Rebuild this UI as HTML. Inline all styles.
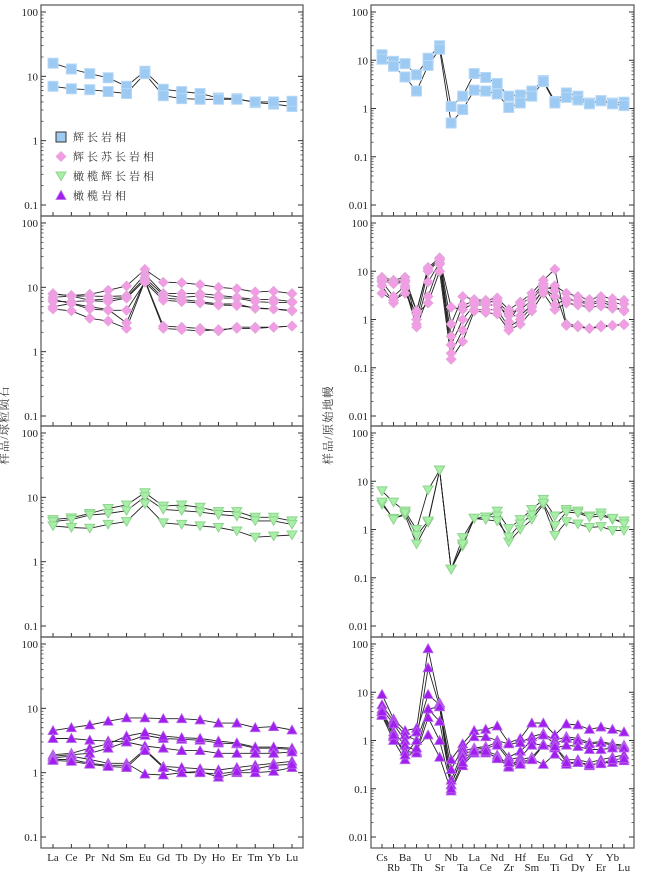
<!DOCTYPE html>
<html><head><meta charset="utf-8">
<style>
html,body{margin:0;padding:0;background:#fff;}
svg{display:block;font-family:"Liberation Serif","Noto Serif CJK SC",serif;}
</style></head>
<body>
<svg id="chart" width="649" height="872" viewBox="0 0 649 872" xmlns="http://www.w3.org/2000/svg">
<text x="8" y="425" font-size="11.5" fill="#333" text-anchor="middle" letter-spacing="1" transform="rotate(-90 8 425)" font-family="'Liberation Serif','Noto Serif CJK SC',serif">样品/球粒陨石</text>
<text x="332" y="425" font-size="11.5" fill="#333" text-anchor="middle" letter-spacing="1" transform="rotate(-90 332 425)" font-family="'Liberation Serif','Noto Serif CJK SC',serif">样品/原始地幔</text>
</svg>
<script>
const reeCats = ["La","Ce","Pr","Nd","Sm","Eu","Gd","Tb","Dy","Ho","Er","Tm","Yb","Lu"];
const spiderCats = ["Cs","Rb","Ba","Th","U","Sr","Nb","Ta","La","Ce","Nd","Zr","Hf","Sm","Eu","Ti","Gd","Dy","Y","Er","Yb","Lu"];
const reeTicks = ["100","10","1","0.1"];
const spiderTicks = ["100","10","1","0.1","0.01"];
const legendLabels = ["辉长岩相","辉长苏长岩相","橄榄辉长岩相","橄榄岩相"];

const gabbroRee1 = [16,13,11,9.5,7,12,6.3,5.8,5.4,4.6,4.5,3.9,3.7,3.4];
const gabbroRee2 = [7,6.4,6.2,5.8,5.4,11,5,4.5,4.4,4.4,4.4,4,4,4.1];
const gabbroSp1 = [13,9.5,8.5,5,11,20,1.1,1.8,5.3,4.4,3.3,1.8,1.9,2.3,3.8,1.4,2.1,1.8,1.3,1.45,1.3,1.35];
const gabbroSp2 = [10.5,7.5,4.5,2.3,7.8,17,0.5,0.95,2.4,2.3,2.0,1.05,1.3,1.8,3.6,1.3,1.7,1.5,1.25,1.45,1.25,1.15];

const normRee1 = [7.8,7.5,7.8,9,10.5,19,12,11.8,11,10,9.5,8.5,8.7,8];
const normRee2 = [8,7.3,7.3,7.2,7.4,16,8,8,8,7.5,7,6.5,6.5,6];
const normRee3 = [7,7.3,6.3,6.6,7,14,7.6,7,7.3,6.8,6.8,6,5.8,5.8];
const normRee4 = [6,6,6.2,6,6.8,13,6.8,6.5,6,5.5,5.5,4.7,4.6,4.3];
const normRee5 = [5,5.6,5,4.5,2.8,13,2.5,2.4,2.3,2.1,2.4,2.4,2.4,2.5];
const normRee6 = [4.6,4.3,3.3,3,2.3,12.5,2.3,2.2,2.1,2.2,2.3,2.3,2.4,2.5];
const normRee7 = [6.5,5.6,4.6,4.4,4.4,12,6.3,6,5.7,5.3,5.2,4.8,4.6,4.4];
const normSp1 = [7.5,6.5,7.5,1.5,12,19,0.8,3.0,2.6,2.5,2.8,1.6,2.3,3.5,6.5,11,0.8,0.75,0.65,0.75,0.75,0.8];
const normSp2 = [7,6,6.5,1.0,10,17,0.45,2.0,2.4,2.4,2.3,1.4,1.6,2.5,5,4,0.75,0.7,0.65,0.7,0.75,0.78];
const normSp3 = [6,3,5,0.8,6,15,0.3,1.0,2.0,2.0,2.0,1.2,1.2,2.0,4,5,3.5,3.0,2.6,3.0,2.7,2.5];
const normSp4 = [5,2.2,4.5,0.7,3,14,0.2,0.6,1.6,1.6,1.6,0.7,1.0,1.8,4.5,3,2.5,2.5,2.2,2.5,2.2,2.1];
const normSp5 = [3.5,2.5,3.5,1.3,2.2,10,0.15,0.35,1.5,1.4,1.3,0.6,0.8,1.5,3.5,1.6,2.2,2.0,1.8,1.9,1.7,1.6];
const normSp6 = [6.5,5.5,6,1.5,11,18,1.8,1.6,2.2,2.2,2.5,0.9,2.1,2.9,5.5,2.0,2.7,2.4,2.0,2.3,1.9,1.5];

const olgRee1 = [4.5,4.8,5.6,6.7,7.6,11.8,7.3,7.6,7,6,6,4.9,4.9,4.3];
const olgRee2 = [4.2,4.5,5.3,5.6,6.2,10.2,6.5,6.2,5.9,5.4,5.1,4.3,4.3,3.8];
const olgRee3 = [3.6,3.4,3.3,3.8,4.2,7.9,4,3.8,3.6,3.4,3.0,2.4,2.5,2.6];
const olgSp1 = [6.3,3.7,2.4,1.0,6.6,17,0.15,0.68,1.7,1.8,2.4,1.05,1.6,2.6,4.2,1.9,2.6,2.4,1.9,2.2,1.6,1.5];
const olgSp2 = [3.3,1.7,2.0,0.5,1.4,17,0.15,0.45,1.7,1.8,1.9,0.55,1.0,1.6,3.3,0.75,1.45,1.3,1.1,1.15,0.95,0.95];
const olgSp3 = [3.7,1.6,2.2,0.75,1.5,17,0.15,0.5,1.7,1.6,1.5,0.7,1.3,2.0,3.5,1.2,2.3,2.2,1.8,1.9,1.7,1.3];

const perRee1 = [4.5,5,5.5,6.3,7.1,7.1,6.9,6.9,6.6,5.9,5.9,5.0,5.2,4.6];
const perRee2 = [3.4,3.4,3.2,3.1,3.0,3.8,3.4,3.3,3.2,2.9,2.8,2.4,2.4,2.3];
const perRee3 = [1.9,2.0,2.4,2.8,3.7,4.2,3.7,3.5,3.4,3.1,2.9,2.5,2.5,2.4];
const perRee4 = [1.8,1.9,2.0,2.4,3.0,2.6,2.4,2.2,2.2,2.0,2.0,2.0,2.0,2.1];
const perRee5 = [1.7,1.8,1.6,1.4,1.4,0.95,0.92,1.0,1.05,0.85,1.0,1.0,1.05,1.2];
const perRee6 = [1.6,1.6,1.4,1.3,1.3,2.3,1.25,1.2,1.15,1.1,1.2,1.3,1.4,1.5];
const perRee7 = [1.55,1.5,1.35,1.25,1.2,2.2,1.2,1.0,1.0,0.95,1.05,1.15,1.3,1.35];
const perSp1 = [9,2.8,1.6,1.8,80,6,0.4,0.85,1.6,1.7,2.0,0.9,1.1,2.3,2.3,1.3,2.2,2.1,1.7,1.9,1.7,1.5];
const perSp2 = [5.5,2.5,1.3,1.0,32,5,0.25,0.7,1.2,1.2,1.0,0.85,0.9,1.2,1.4,1.0,1.2,1.1,0.9,0.95,0.85,0.8];
const perSp3 = [4.5,2.2,1.0,1.5,9,5.5,0.15,0.6,0.7,0.75,0.9,0.45,0.6,1.0,1.3,0.85,1.1,1.0,0.85,0.9,0.8,0.75];
const perSp4 = [4,1.5,0.8,0.6,4.5,2.5,0.12,0.5,0.65,0.7,0.8,0.4,0.45,0.8,0.85,0.7,0.8,0.75,0.65,0.65,0.7,0.7];
const perSp5 = [3.5,1.2,0.6,0.55,3,1.0,0.12,0.45,0.55,0.6,0.5,0.3,0.4,0.45,0.8,0.75,0.4,0.4,0.35,0.4,0.45,0.5];
const perSp6 = [3.3,1.0,0.4,0.7,1.3,0.45,0.09,0.3,0.55,0.55,0.45,0.28,0.35,0.42,0.32,0.52,0.32,0.35,0.3,0.35,0.35,0.38];
const perSp7 = [4,1.3,0.5,1.0,4.5,5,0.1,0.35,0.6,0.6,0.42,0.35,0.32,0.4,0.8,0.75,0.35,0.35,0.32,0.33,0.4,0.42];

const NS = "http://www.w3.org/2000/svg";
const svg = document.getElementById("chart");
function mk(tag, attrs, parent) {
  const e = document.createElementNS(NS, tag);
  for (const k in attrs) e.setAttribute(k, attrs[k]);
  (parent || svg).appendChild(e);
  return e;
}
const tops = [5, 216, 426, 637];
const bottomY = 848;
const styles = {
  square: {fill:"#9ccaf3", stroke:"#b8d8f5"},
  diamond: {fill:"#f39be5", stroke:"#e4a5dc"},
  down: {fill:"#a8f0a8", stroke:"#8fd48f"},
  up: {fill:"#a11ef0", stroke:"#b868e8"}
};
function marker(g, type, x, y) {
  const s = styles[type];
  let e;
  if (type === "square") e = mk("rect", {x:x-5, y:y-5, width:10, height:10, fill:s.fill, stroke:s.stroke, "stroke-width":1}, g);
  else if (type === "diamond") e = mk("polygon", {points:`${x},${y-4.8} ${x+4.8},${y} ${x},${y+4.8} ${x-4.8},${y}`, fill:s.fill, stroke:s.stroke, "stroke-width":1}, g);
  else if (type === "down") e = mk("polygon", {points:`${x-5},${y-4} ${x+5},${y-4} ${x},${y+4.5}`, fill:s.fill, stroke:s.stroke, "stroke-width":1}, g);
  else e = mk("polygon", {points:`${x-5},${y+4} ${x+5},${y+4} ${x},${y-5}`, fill:s.fill, stroke:s.stroke, "stroke-width":0.8}, g);
  return e;
}
function panel(name, left, row, cats, minExp, ticks, seriesList, type, firstX, lastX) {
  const x0 = left ? 41 : 371, x1 = left ? 303 : 634;
  const top = tops[row], bot = row < 3 ? tops[row+1] : bottomY;
  const yTop = top + 7, yBot = top + 200;
  const ppd = (yBot - yTop) / (2 - minExp);
  const yScale = v => yTop + (2 - Math.log10(v)) * ppd;
  const step = (lastX - firstX) / (cats.length - 1);
  const xScale = i => firstX + i * step;
  const g = mk("g", {});
  
  
  const box = mk("rect", {x:x0, y:top, width:x1-x0, height:bot-top, fill:"none", stroke:"#555", "stroke-width":1.2}, g);
  
  
  for (let e = minExp; e <= 2; e++) {
    const y = yScale(Math.pow(10, e));
    mk("line", {x1:x0, y1:y, x2:x0+5, y2:y, stroke:"#333"}, g);
    mk("line", {x1:x1, y1:y, x2:x1-5, y2:y, stroke:"#333"}, g);
    const t = mk("text", {x:x0-3, y:y+4, "font-size":11, "text-anchor":"end", fill:"#222"}, g);
    t.textContent = ticks[2 - e];
    
    
    if (e < 2) for (let m = 2; m <= 9; m++) {
      const ym = yScale(m * Math.pow(10, e));
      mk("line", {x1:x0, y1:ym, x2:x0+2.5, y2:ym, stroke:"#444", "stroke-width":0.8}, g);
      mk("line", {x1:x1, y1:ym, x2:x1-2.5, y2:ym, stroke:"#444", "stroke-width":0.8}, g);
    }
  }
  cats.forEach((c, i) => {
    const x = xScale(i);
    mk("line", {x1:x, y1:bot, x2:x, y2:bot-4, stroke:"#333"}, g);
    if (row === 3) {
      const yy = left ? 861 : (i % 2 === 0 ? 861 : 871);
      const t = mk("text", {x:x, y:yy, "font-size":11, "text-anchor":"middle", fill:"#222"}, g);
      t.textContent = c;
      
      
    }
  });
  seriesList.forEach((vals, si) => {
    const sg = mk("g", {}, g);
    
    
    const pts = vals.map((v, i) => xScale(i).toFixed(1) + "," + yScale(v).toFixed(1)).join(" ");
    mk("polyline", {points:pts, fill:"none", stroke:"#222", "stroke-width":0.9}, sg);
  });
  seriesList.forEach((vals, si) => {
    vals.forEach((v, i) => {
      const m = marker(g, type, xScale(i), yScale(v));
      
      
    });
  });
}
panel("gabbro-ree", true, 0, reeCats, -1, reeTicks, [gabbroRee1, gabbroRee2], "square", 53, 292);
panel("gabbro-spider", false, 0, spiderCats, -2, spiderTicks, [gabbroSp1, gabbroSp2], "square", 382, 624);
panel("gabbronorite-ree", true, 1, reeCats, -1, reeTicks, [normRee1, normRee2, normRee3, normRee4, normRee5, normRee6, normRee7], "diamond", 53, 292);
panel("gabbronorite-spider", false, 1, spiderCats, -2, spiderTicks, [normSp1, normSp2, normSp3, normSp4, normSp5, normSp6], "diamond", 382, 624);
panel("olivine-gabbro-ree", true, 2, reeCats, -1, reeTicks, [olgRee1, olgRee2, olgRee3], "down", 53, 292);
panel("olivine-gabbro-spider", false, 2, spiderCats, -2, spiderTicks, [olgSp1, olgSp2, olgSp3], "down", 382, 624);
panel("peridotite-ree", true, 3, reeCats, -1, reeTicks, [perRee1, perRee2, perRee3, perRee4, perRee5, perRee6, perRee7], "up", 53, 292);
panel("peridotite-spider", false, 3, spiderCats, -2, spiderTicks, [perSp1, perSp2, perSp3, perSp4, perSp5, perSp6, perSp7], "up", 382, 624);

const lg = mk("g", {});


const legTypes = ["square","diamond","down","up"];
legendLabels.forEach((lab, i) => {
  const y = 137 + i * 19.5;
  const m = marker(lg, legTypes[i], 61, y);
  if (i === 0) { m.setAttribute("stroke", "#333"); }
  
  
  const t = mk("text", {x:73, y:y+4, "font-size":11, fill:"#333", "letter-spacing":"3"}, lg);
  t.textContent = lab;
  
  
});
</script>
</body></html>
